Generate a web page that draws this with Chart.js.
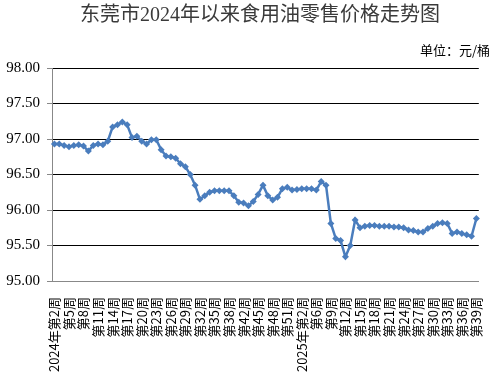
<!DOCTYPE html>
<html>
<head>
<meta charset="utf-8">
<script src="https://cdn.jsdelivr.net/npm/chart.js@4/dist/chart.umd.min.js"></script>
<style>
  html, body { margin: 0; padding: 0; background: #fff; }
  #wrap { width: 500px; height: 380px; }
</style>
</head>
<body>
<div id="wrap"><canvas id="oilChart" width="500" height="380"></canvas></div>
<script>
// weeks that have a price reading
const weeks2024 = [2, 3, 4, 5, 6, 7, 8, 9, 10, 11, 12, 13, 14, 15, 16, 17, 18, 19, 20, 21,
    22, 23, 24, 25, 26, 27, 28, 29, 30, 31, 32, 33, 34, 35, 36, 37, 38, 39,
    41, 42, 43, 44, 45, 46, 47, 48, 49, 50, 51, 52, 53];
const weeks2025 = [2, 3, 4, 6, 7, 8, 9, 10, 11, 12, 13, 14, 15, 16, 17, 18, 19, 20, 21,
    22, 23, 24, 25, 26, 27, 28, 29, 30, 31, 32, 33, 34, 35, 36, 37, 38, 39];

// retail price, yuan per barrel
const prices = [
    96.93, 96.93, 96.91, 96.89, 96.91, 96.92, 96.90, 96.83, 96.91, 96.93,
    96.92, 96.97, 97.17, 97.20, 97.24, 97.20, 97.02, 97.04, 96.97, 96.93,
    96.99, 96.99, 96.85, 96.76, 96.75, 96.73, 96.65, 96.61, 96.50, 96.35,
    96.15, 96.20, 96.25, 96.27, 96.27, 96.27, 96.27, 96.20, 96.11, 96.10,
    96.06, 96.12, 96.22, 96.35, 96.20, 96.14, 96.18, 96.30, 96.32, 96.28,
    96.29, 96.30, 96.30, 96.30, 96.28, 96.40, 96.35, 95.81, 95.60, 95.57,
    95.34, 95.50, 95.86, 95.75, 95.77, 95.78, 95.78, 95.77, 95.77, 95.77,
    95.76, 95.76, 95.75, 95.72, 95.71, 95.69, 95.69, 95.74, 95.77, 95.81,
    95.82, 95.81, 95.67, 95.69, 95.67, 95.65, 95.63, 95.88
];

const yMin = 95, yMax = 98, yStep = 0.5;

const labels = [
    ...weeks2024.map((w, i) => (i === 0 ? '2024年' : '') + '第' + w + '周'),
    ...weeks2025.map((w, i) => (i === 0 ? '2025年' : '') + '第' + w + '周')
];

const blue = '#4a7dbd';

const headerPlugin = {
    id: 'header',
    afterDraw(chart) {
        const ctx = chart.ctx;
        ctx.save();
        ctx.fillStyle = '#3a3a3a';
        ctx.textAlign = 'center';
        ctx.textBaseline = 'middle';
        ctx.font = '20px "Liberation Serif", "Noto Sans CJK SC"';
        ctx.fillText('东莞市2024年以来食用油零售价格走势图', 260, 16);
        ctx.fillStyle = '#000';
        ctx.textAlign = 'right';
        ctx.font = '13px "Noto Sans CJK SC"';
        ctx.fillText('单位：元/桶', 490, 50);
        ctx.restore();
    }
};

new Chart(document.getElementById('oilChart').getContext('2d'), {
    type: 'line',
    data: {
        labels: labels,
        datasets: [{
            data: prices,
            borderColor: blue,
            backgroundColor: blue,
            borderWidth: 2.5,
            tension: 0,
            pointStyle: 'rectRot',
            pointRadius: 3.5,
            pointBorderWidth: 0,
            pointBackgroundColor: blue
        }]
    },
    options: {
        responsive: false,
        animation: false,
        layout: { padding: { top: 68, right: 3, left: 0, bottom: 0 } },
        plugins: {
            legend: { display: false },
            title: { display: false },
            tooltip: { enabled: false }
        },
        scales: {
            x: {
                offset: true,
                grid: { display: false },
                border: { display: true, color: '#888', width: 1 },
                ticks: {
                    autoSkip: false,
                    minRotation: 90,
                    maxRotation: 90,
                    padding: 8,
                    color: '#000',
                    font: { family: '"Noto Sans CJK SC"', size: 13 },
                    callback: function (value, index) {
                        return index % 3 === 0 ? this.getLabelForValue(value) : '';
                    }
                },
                afterFit(scale) { scale.height = 99; }
            },
            y: {
                min: yMin,
                max: yMax,
                grid: {
                    color: (c) => (c.tick && c.tick.value === yMin ? 'rgba(0,0,0,0)' : '#000'),
                    lineWidth: 1,
                    drawTicks: true,
                    tickLength: 5,
                    tickColor: '#888'
                },
                border: { display: true, color: '#888', width: 1 },
                ticks: {
                    stepSize: yStep,
                    padding: 7,
                    color: '#000',
                    font: { family: '"Liberation Serif"', size: 15 },
                    callback: (v) => v.toFixed(2)
                },
                afterFit(scale) { scale.width = 52; }
            }
        }
    },
    plugins: [headerPlugin]
});
</script>
</body>
</html>
